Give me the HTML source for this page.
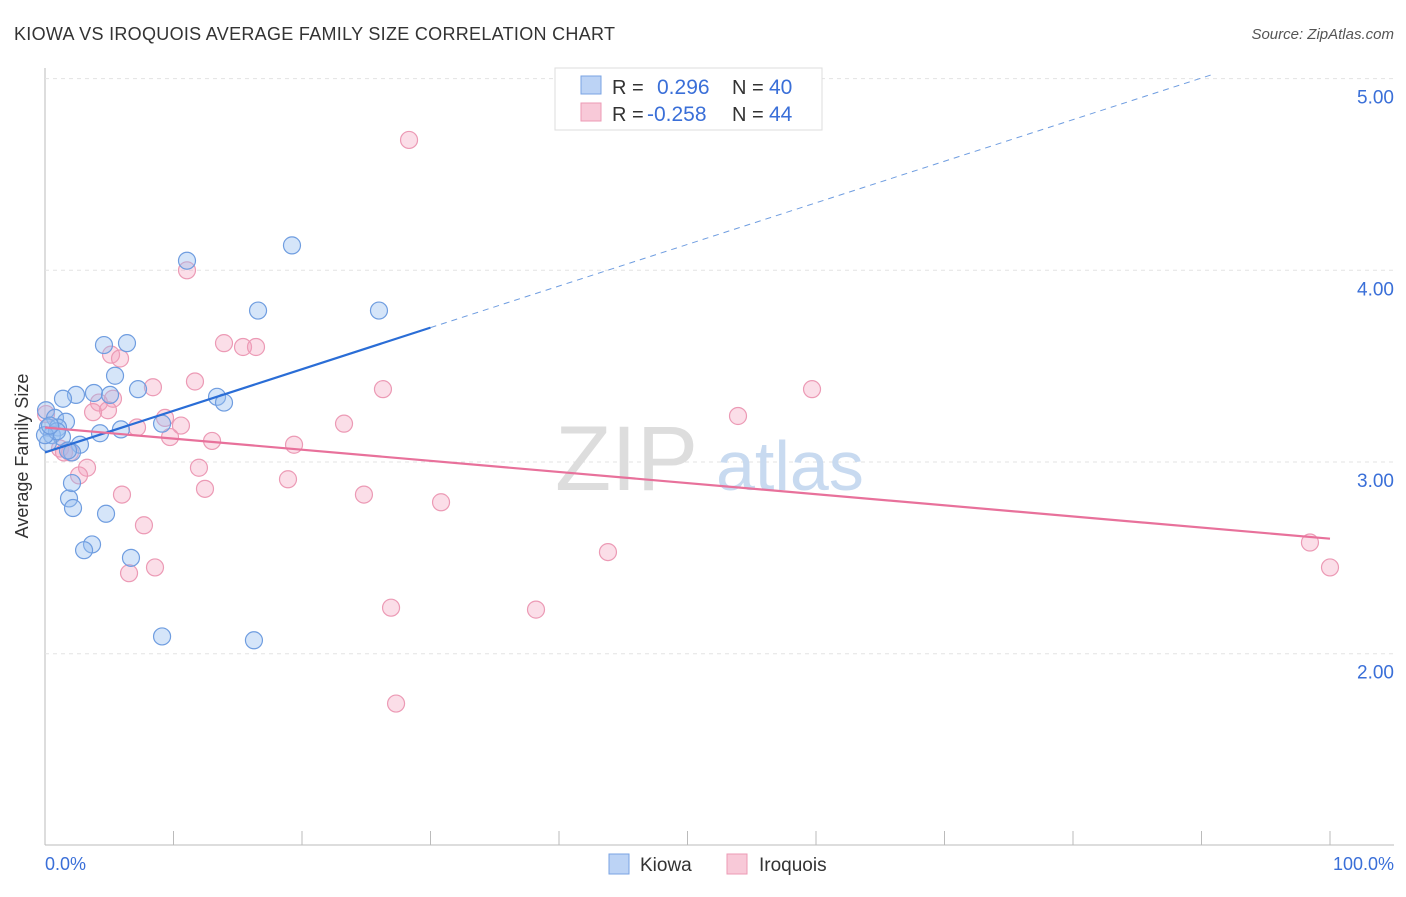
<!DOCTYPE html>
<html><head><meta charset="utf-8"><style>
body{margin:0;background:#fff;font-family:"Liberation Sans",sans-serif;}
svg text{font-family:"Liberation Sans",sans-serif;}
</style></head><body>
<svg id="c" width="1406" height="892">
<text x="14" y="40" font-size="18" fill="#333" textLength="601">KIOWA VS IROQUOIS AVERAGE FAMILY SIZE CORRELATION CHART</text>
<text x="1394" y="39" font-size="15" fill="#555" font-style="italic" text-anchor="end">Source: ZipAtlas.com</text>
<g id="grid"></g>
<text x="555" y="490" font-size="92" fill="#ddd" font-family="Liberation Serif">ZIP</text>
<text x="716" y="490" font-size="70" fill="#c8daf0">atlas</text>
<g id="pts"></g>
<g id="lines"></g>
<text x="28" y="456" font-size="18" fill="#333" text-anchor="middle" transform="rotate(-90 28 456)">Average Family Size</text>
<text x="45" y="870" font-size="18" fill="#3a6fd8">0.0%</text>
<text x="1394" y="870" font-size="18" fill="#3a6fd8" text-anchor="end">100.0%</text>
<g>
<rect x="555" y="68" width="267" height="62" fill="#fff" stroke="#ddd"/>
<rect x="581" y="76" width="20" height="18" fill="#bcd3f5" stroke="#7aa3e3"/>
<rect x="581" y="103" width="20" height="18" fill="#f8c9d8" stroke="#ec9ab5"/>
<text x="612" y="94" font-size="20" fill="#333">R =</text><text x="657" y="94" font-size="21" fill="#3a6fd8">0.296</text>
<text x="732" y="94" font-size="20" fill="#333">N =</text><text x="769" y="94" font-size="21" fill="#3a6fd8">40</text>
<text x="612" y="121" font-size="20" fill="#333">R =</text><text x="647" y="121" font-size="21" fill="#3a6fd8">-0.258</text>
<text x="732" y="121" font-size="20" fill="#333">N =</text><text x="769" y="121" font-size="21" fill="#3a6fd8">44</text>
</g>
<g><rect x="609" y="854" width="20" height="20" fill="#bcd3f5" stroke="#7aa3e3"/><text x="640" y="871" font-size="19" fill="#333">Kiowa</text></g>
<g><rect x="727" y="854" width="20" height="20" fill="#f8c9d8" stroke="#ec9ab5"/><text x="759" y="871" font-size="19" fill="#333">Iroquois</text></g>
</svg>
<script>
const yTicks=[2,3,4,5];
const xTicksCount=10;
const kiowaX=[11.05,19.22,16.58,25.99,4.59,6.38,5.45,7.24,3.81,2.41,1.40,5.06,13.39,13.93,0.08,0.78,1.63,0.23,1.01,5.91,4.28,9.11,0.54,1.32,2.72,0.23,2.10,1.87,2.10,2.18,4.75,3.66,3.04,6.69,9.11,16.26,0.93,0,0.39,1.79];
const kiowaY=[4.05,4.13,3.79,3.79,3.61,3.62,3.45,3.38,3.36,3.35,3.33,3.35,3.34,3.31,3.27,3.23,3.21,3.18,3.18,3.17,3.15,3.20,3.14,3.13,3.09,3.10,3.05,2.81,2.89,2.76,2.73,2.57,2.54,2.50,2.09,2.07,3.16,3.14,3.19,3.06];
const iroqX=[28.33,11.05,13.93,15.41,16.42,5.14,5.84,8.40,11.67,26.30,59.69,5.29,4.20,4.90,3.74,9.34,53.93,23.27,7.16,10.58,9.73,13.00,19.38,1.17,1.95,1.48,3.27,2.65,11.98,12.45,18.91,5.99,24.82,30.82,7.70,43.81,98.44,100,6.54,8.56,26.93,38.21,27.32,0.08];
const iroqY=[4.68,4.00,3.62,3.60,3.60,3.56,3.54,3.39,3.42,3.38,3.38,3.33,3.31,3.27,3.26,3.23,3.24,3.20,3.18,3.19,3.13,3.11,3.09,3.07,3.05,3.05,2.97,2.93,2.97,2.86,2.91,2.83,2.83,2.79,2.67,2.53,2.58,2.45,2.42,2.45,2.24,2.23,1.74,3.25];
const kiowaTrend=[3.05,0.0217]; const iroqTrend=[3.18,-0.0058];
const NS='http://www.w3.org/2000/svg';
const X=v=>45+v*12.85, Y=v=>462-(v-3)*191.7;
function mk(t,a,p){const e=document.createElementNS(NS,t);for(const k in a)e.setAttribute(k,a[k]);p.appendChild(e);return e;}
const g=document.getElementById('grid');
mk('line',{x1:45,y1:845,x2:1394,y2:845,stroke:'#bbb'},g);
mk('line',{x1:45,y1:68,x2:45,y2:845,stroke:'#bbb'},g);
for(let i=0;i<=xTicksCount;i++){const l=mk('line',{x1:X(i*10),y1:831,x2:X(i*10),y2:845,stroke:'#bbb'},g);

}
yTicks.forEach(v=>{const l=mk('line',{x1:45,y1:Y(v),x2:1394,y2:Y(v),stroke:'#e3e3e3','stroke-dasharray':'4 4'},g);


const t=mk('text',{x:1394,y:Y(v)+25,'font-size':19,fill:'#3a6fd8','text-anchor':'end'},g);t.textContent=v.toFixed(2);

});
const p=document.getElementById('pts');
iroqX.forEach((x,i)=>{const c=mk('circle',{cx:X(x),cy:Y(iroqY[i]),r:8.5,fill:'rgba(244,160,190,0.35)',stroke:'#ec9ab5','stroke-width':1.2},p);

});
kiowaX.forEach((x,i)=>{const c=mk('circle',{cx:X(x),cy:Y(kiowaY[i]),r:8.5,fill:'rgba(150,190,240,0.4)',stroke:'#6f9de0','stroke-width':1.2},p);

});
const L=document.getElementById('lines');
const f=(t,x)=>t[0]+t[1]*x;
let a=mk('line',{x1:X(0),y1:Y(f(kiowaTrend,0)),x2:X(30),y2:Y(f(kiowaTrend,30)),stroke:'#2a6dd6','stroke-width':2.2},L);


let b=mk('line',{x1:X(30),y1:Y(f(kiowaTrend,30)),x2:X(90.9),y2:Y(f(kiowaTrend,90.9)),stroke:'#6f9de0','stroke-width':1,'stroke-dasharray':'6 5'},L);


let c=mk('line',{x1:X(0),y1:Y(f(iroqTrend,0)),x2:X(100),y2:Y(f(iroqTrend,100)),stroke:'#e8719b','stroke-width':2.2},L);


</script>
</body></html>
